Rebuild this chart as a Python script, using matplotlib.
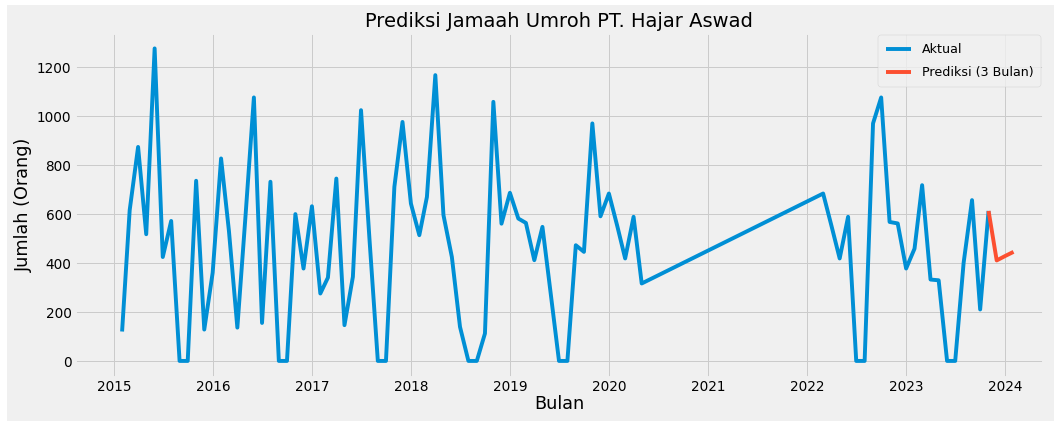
import numpy as np
import pandas as pd
import matplotlib
matplotlib.use("Agg")
import matplotlib.pyplot as plt
from matplotlib.patches import Rectangle

plt.style.use("fivethirtyeight")

# data aktual: Jan 2015 - Apr 2020, lalu Feb 2022 - Okt 2023
tanggal_1 = pd.date_range("2015-01-01", "2020-04-30", freq="ME")
jumlah_1 = [120, 615, 873, 517, 1275, 424, 571, 0, 0, 735, 128, 360,
            826, 530, 136, 590, 1075, 155, 731, 0, 0, 599, 377, 631,
            275, 340, 744, 146, 343, 1023, 500, 0, 0, 710, 975, 642,
            513, 669, 1166, 595, 424, 139, 0, 0, 112, 1057, 560, 686,
            581, 563, 411, 547, 270, 0, 0, 472, 445, 969, 590, 683,
            550, 418, 588, 316]
tanggal_2 = pd.date_range("2022-02-01", "2023-10-31", freq="ME")
jumlah_2 = [683, 550, 418, 588, 0, 0, 969, 1075, 567, 561, 377, 458,
            717, 332, 329, 0, 0, 400, 656, 210, 612]

# prediksi 3 bulan (disambung dari bulan terakhir aktual)
tanggal_pred = pd.date_range("2023-10-01", "2024-01-31", freq="ME")
jumlah_pred = [612, 410, 428, 445]

tanggal = tanggal_1.append(tanggal_2)
jumlah = jumlah_1 + jumlah_2

fig = plt.figure(figsize=(15, 5.99), dpi=70.33)
fig.patch.set_facecolor("white")
fig.patches.append(Rectangle((7 / 1055, 0), 1 - 7 / 1055, 1 - 5 / 421,
                             transform=fig.transFigure, facecolor="#f0f0f0",
                             edgecolor="none", zorder=-10))
ax = fig.add_axes([0.071, 0.1055, 0.918, 0.816])

ax.plot(tanggal, jumlah, label="Aktual")
ax.plot(tanggal_pred, jumlah_pred, label="Prediksi (3 Bulan)")

ax.set_title("Prediksi Jamaah Umroh PT. Hajar Aswad", fontsize=20)
ax.set_xlabel("Bulan", fontsize=18, labelpad=1)
ax.set_ylabel("Jumlah (Orang)", fontsize=18)
ax.tick_params(labelsize=14)
ax.set_xlim(pd.Timestamp("2014-08-10"), pd.Timestamp("2024-05-20"))
ax.legend(loc="upper right", fontsize=13, labelspacing=0.8,
          borderpad=0.6, borderaxespad=0.2)

plt.savefig("out.png", dpi=70.33, facecolor=fig.get_facecolor())
